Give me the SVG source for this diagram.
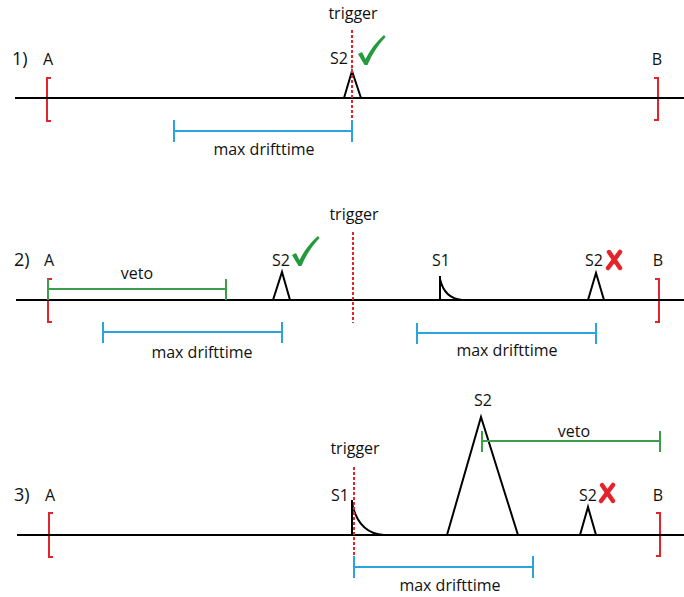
<svg xmlns="http://www.w3.org/2000/svg" width="684" height="597" viewBox="0 0 684 597">
  <defs>
    <style>
      text { font-family: "Open Sans", "Liberation Sans", sans-serif; font-size: 16px; fill: #111; }
      .num { font-size: 18px; }
      .mid { text-anchor: middle; }
      .axis { stroke: #000; stroke-width: 2; fill: none; }
      .pulse { stroke: #000; stroke-width: 2; fill: none; stroke-linejoin: miter; }
      .bracket { stroke: #e3242b; stroke-width: 2; fill: none; }
      .trig { stroke: #e3242b; stroke-width: 2; stroke-dasharray: 3 2; fill: none; }
      .drift { stroke: #2ba4dd; stroke-width: 2; fill: none; }
      .veto { stroke: #3a9e4a; stroke-width: 2; fill: none; }
    </style>
    <!-- check mark, origin at the bottom vertex -->
    <path id="check" fill="#249a3c" d="M-7,-10 L-3,-12 L0.5,-5 C5,-14 11,-22 19,-29 L20.5,-27 C13,-19 7,-10 2.5,1 L-0.5,1 Z"/>
    <!-- cross mark, origin at centre -->
    <g id="cross" stroke="#e3242b" stroke-width="4.5" stroke-linecap="round">
      <path d="M-5,-8 L6,8"/>
      <path d="M6,-8 L-6,8"/>
    </g>
  </defs>

  <!-- ===== Row 1 ===== -->
  <g id="row1">
    <text class="num" x="12" y="65">1)</text>
    <g id="r1-A"><text class="mid" x="48" y="65">A</text><path class="bracket" d="M51,78 H47 V121 H51"/></g>
    <g id="r1-B"><text class="mid" x="657" y="65">B</text><path class="bracket" d="M654,78 H658 V120 H654"/></g>
    <line class="axis" x1="15" y1="98" x2="684" y2="98"/>
    <g id="r1-S2"><text class="mid" x="339" y="64">S2</text><path class="pulse" d="M344,98 L352,71 L361,98"/><use href="#check" x="365" y="64"/></g>
    <g id="r1-trigger"><text class="mid" x="353" y="19">trigger</text><line class="trig" x1="352" y1="30" x2="352" y2="122"/></g>
    <g id="r1-drift"><path class="drift" d="M174,120 V142 M174,131 H352 M352,120 V142"/><text class="mid" x="264" y="155">max drifttime</text></g>
  </g>

  <!-- ===== Row 2 ===== -->
  <g id="row2">
    <text class="num" x="14" y="266">2)</text>
    <g id="r2-A"><text class="mid" x="49" y="266">A</text><path class="bracket" d="M52,279 H48 V322 H52"/></g>
    <g id="r2-B"><text class="mid" x="658" y="266">B</text><path class="bracket" d="M655,279 H659 V322 H655"/></g>
    <line class="axis" x1="16" y1="300" x2="684" y2="300"/>
    <g id="r2-veto"><path class="veto" d="M48,279 V300 M48,289 H226 M226,279 V300"/><text class="mid" x="137" y="279">veto</text></g>
    <g id="r2-S2a"><text class="mid" x="281" y="266">S2</text><path class="pulse" d="M273,300 L282,272 L290,300"/><use href="#check" x="299" y="265"/></g>
    <g id="r2-trigger"><text class="mid" x="354" y="220">trigger</text><line class="trig" x1="353" y1="232" x2="353" y2="323"/></g>
    <g id="r2-S1"><text class="mid" x="441" y="266">S1</text><path class="pulse" d="M440,300 V276 M440,279 C443,292 450,299 462,300"/></g>
    <g id="r2-S2b"><text class="mid" x="594" y="266">S2</text><path class="pulse" d="M588,300 L596,273 L604,300"/><use href="#cross" x="614" y="260"/></g>
    <g id="r2-drift1"><path class="drift" d="M103,322 V343 M103,332 H282 M282,322 V343"/><text class="mid" x="202" y="358">max drifttime</text></g>
    <g id="r2-drift2"><path class="drift" d="M417,323 V344 M417,333 H596 M596,323 V344"/><text class="mid" x="507" y="356">max drifttime</text></g>
  </g>

  <!-- ===== Row 3 ===== -->
  <g id="row3">
    <text class="num" x="14" y="501">3)</text>
    <g id="r3-A"><text class="mid" x="50" y="501">A</text><path class="bracket" d="M53,513 H49 V557 H53"/></g>
    <g id="r3-B"><text class="mid" x="658" y="501">B</text><path class="bracket" d="M656,513 H660 V556 H656"/></g>
    <line class="axis" x1="17" y1="535" x2="684" y2="535"/>
    <g id="r3-S1"><text class="mid" x="340" y="501">S1</text><path class="pulse" d="M352,535 V500 M352,503 C356,522 366,534 384,535"/></g>
    <g id="r3-trigger"><text class="mid" x="355" y="454">trigger</text><line class="trig" x1="354" y1="467" x2="354" y2="556"/></g>
    <g id="r3-S2big"><text class="mid" x="483" y="406">S2</text><path class="pulse" d="M447,535 L481,417 L518,535"/></g>
    <g id="r3-veto"><path class="veto" d="M482,431 V452 M482,441 H660 M660,431 V452"/><text class="mid" x="574" y="437">veto</text></g>
    <g id="r3-S2small"><text class="mid" x="588" y="501">S2</text><path class="pulse" d="M580,535 L588,507 L596,535"/><use href="#cross" x="607" y="493"/></g>
    <g id="r3-drift"><path class="drift" d="M354,556 V578 M354,567 H533 M533,556 V578"/><text class="mid" x="450" y="591">max drifttime</text></g>
  </g>
</svg>
